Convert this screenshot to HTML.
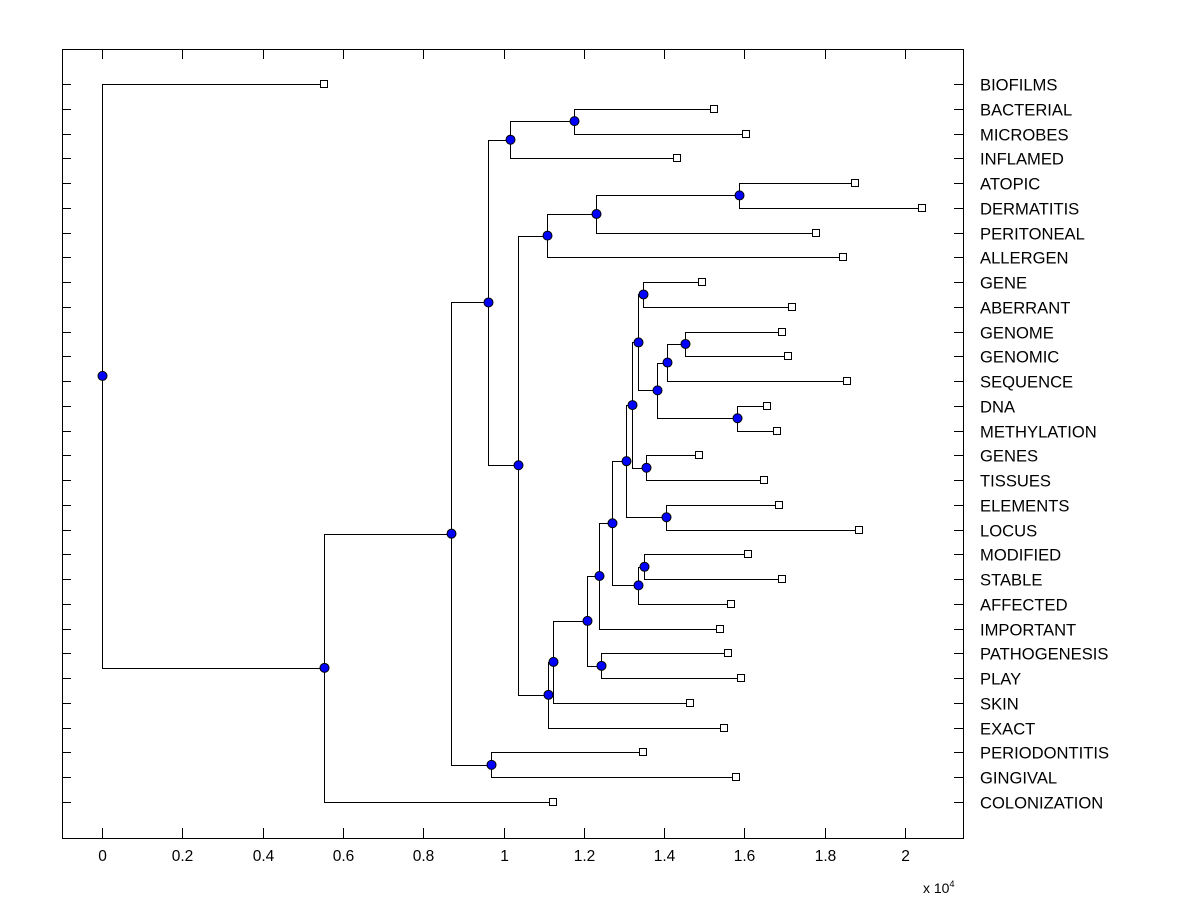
<!DOCTYPE html>
<html><head><meta charset="utf-8"><style>
html,body{margin:0;padding:0;background:#fff;}
svg{display:block;font-family:"Liberation Sans",Arial,sans-serif;}
</style></head><body>
<svg id="chart" width="1200" height="900" xmlns="http://www.w3.org/2000/svg"></svg>
<script>
const labels = ["BIOFILMS","BACTERIAL","MICROBES","INFLAMED","ATOPIC","DERMATITIS","PERITONEAL","ALLERGEN","GENE","ABERRANT","GENOME","GENOMIC","SEQUENCE","DNA","METHYLATION","GENES","TISSUES","ELEMENTS","LOCUS","MODIFIED","STABLE","AFFECTED","IMPORTANT","PATHOGENESIS","PLAY","SKIN","EXACT","PERIODONTITIS","GINGIVAL","COLONIZATION"];
const leafValues = [0.553,1.524,1.604,1.432,1.875,2.042,1.778,1.846,1.494,1.719,1.694,1.709,1.856,1.656,1.681,1.487,1.649,1.686,1.885,1.609,1.694,1.567,1.539,1.559,1.592,1.465,1.549,1.347,1.579,1.123];
const nodeNames =   ["G","K","J","H","BB","Z","AA","Y","X","V","W","T","U","Q","S","R","P","N","O","M","L","I","F","E","C","D","B","A","root"];
const nodeHeights = [1.175,1.586,1.231,1.108,1.453,1.408,1.581,1.382,1.347,1.334,1.354,1.320,1.405,1.306,1.350,1.334,1.271,1.237,1.243,1.208,1.123,1.111,1.036,1.016,0.962,0.969,0.870,0.553,0];
const nodeChildA =  ["BACTERIAL","ATOPIC","K","J","GENOME","BB","DNA","Z","GENE","X","GENES","V","ELEMENTS","T","MODIFIED","S","Q","P","PATHOGENESIS","N","M","L","H","G","E","PERIODONTITIS","C","B","BIOFILMS"];
const nodeChildB =  ["MICROBES","DERMATITIS","PERITONEAL","ALLERGEN","GENOMIC","SEQUENCE","METHYLATION","AA","ABERRANT","Y","TISSUES","W","LOCUS","U","STABLE","AFFECTED","R","IMPORTANT","PLAY","O","SKIN","EXACT","I","INFLAMED","F","GINGIVAL","D","COLONIZATION","A"];
const xTicks = [0,0.2,0.4,0.6,0.8,1,1.2,1.4,1.6,1.8,2];

const svg = document.getElementById('chart');
const NS = "http://www.w3.org/2000/svg";
const L=62,R=963,T=49,B=838;
const xs = v => 102 + v*401.5;
const ys = i => 84 + i*(802-84)/(labels.length-1);
function mk(tag, attrs, parent){const e=document.createElementNS(NS,tag);for(const k in attrs)e.setAttribute(k,attrs[k]);(parent||svg).appendChild(e);return e;}

const frame = mk('rect',{x:L+0.5,y:T+0.5,width:R-L,height:B-T,fill:'none',stroke:'#000','stroke-width':1});



const axisG = mk('g',{});


xTicks.forEach(t=>{
  const x=Math.round(xs(t))+0.5;
  mk('line',{x1:x,y1:B,x2:x,y2:B-10,stroke:'#000'},axisG);
  mk('line',{x1:x,y1:T,x2:x,y2:T+10,stroke:'#000'},axisG);
  const tx=mk('text',{x:x,y:861,'text-anchor':'middle','font-size':15.5},axisG);
  tx.textContent = String(Math.round(t*10)/10);
  
  
});
const ex = mk('text',{x:923,y:893,'font-size':14},axisG);
ex.innerHTML = 'x 10<tspan dy="-6" font-size="9">4</tspan>';



const pos = {};
labels.forEach((lab,i)=>{
  const y=Math.round(ys(i))+0.5;
  pos[lab]={x:xs(leafValues[i]),y:ys(i)};
  mk('line',{x1:L,y1:y,x2:L+9,y2:y,stroke:'#000'});
  mk('line',{x1:R,y1:y,x2:R-9,y2:y,stroke:'#000'});
  const t=mk('text',{x:980,y:y+6,'font-size':16.6});
  t.textContent=lab;
  
  
});
const linkG = mk('g',{fill:'none',stroke:'#000','stroke-width':1});


const nodeG = mk('g',{});


nodeNames.forEach((n,k)=>{
  const a=pos[nodeChildA[k]], b=pos[nodeChildB[k]];
  const x=xs(nodeHeights[k]);
  pos[n]={x:x,y:(a.y+b.y)/2};
  const p=mk('path',{d:`M${a.x} ${Math.round(a.y)+0.5}H${Math.round(x)+0.5}V${Math.round(b.y)+0.5}H${b.x}`},linkG);
  
  
});
nodeNames.forEach(n=>{
  const c=mk('circle',{cx:Math.round(pos[n].x)+0.5,cy:pos[n].y,r:4.5,fill:'#0000ff',stroke:'#000','stroke-width':1},nodeG);
  
  
});
labels.forEach(lab=>{
  const p=pos[lab];
  const r=mk('rect',{x:Math.round(p.x)-3.5,y:Math.round(p.y)-3.5,width:7,height:7,fill:'#fff',stroke:'#000'},nodeG);
  
  
});
</script>
</body></html>
